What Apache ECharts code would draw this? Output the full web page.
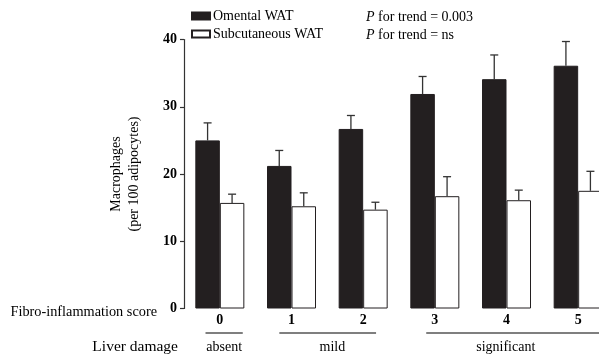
<!DOCTYPE html>
<html>
<head>
<meta charset="utf-8">
<script src="https://cdn.jsdelivr.net/npm/echarts@6/dist/echarts.min.js"></script>
<style>
  html, body { margin: 0; padding: 0; background: #fff; }
  #chart { width: 599px; height: 356px; }
</style>
</head>
<body>
<div id="chart"></div>
<script>
// fibro-inflammation score categories
var categories = ['0', '1', '2', '3', '4', '5'];
// macrophages per 100 adipocytes (mean and SE)
var omental = [25.0, 21.2, 26.7, 31.9, 34.1, 36.1];
var omentalErr = [2.6, 2.3, 2.0, 2.6, 3.6, 3.6];
var subcut = [15.7, 15.2, 14.7, 16.7, 16.1, 17.5];
var subcutErr = [1.3, 2.0, 1.1, 2.9, 1.5, 2.9];
var yTicks = [0, 10, 20, 30, 40];
// liver damage groups, spans in category units
var damageLabels = ['absent', 'mild', 'significant'];
var damageSpans = [[-0.2, 0.32], [0.83, 2.18], [2.88, 5.4]];
var damageCenters = [0.06, 1.57, 3.99];

var ink = '#231f20';
var serif = '"Liberation Serif", "DejaVu Serif", serif';
var barW = 24.5;

var chart = echarts.init(document.getElementById('chart'));

function errSeries(name, vals, errs, dx) {
    return {
        name: name + ' err',
        type: 'custom',
        z: 1,
        silent: true,
        data: vals.map(function (v, i) { return [i, v, v + errs[i]]; }),
        renderItem: function (params, api) {
            var lo = api.coord([api.value(0), api.value(1)]);
            var hi = api.coord([api.value(0), api.value(2)]);
            var x = lo[0] + dx;
            var st = { stroke: '#333', lineWidth: 1.3 };
            return {
                type: 'group',
                children: [
                    { type: 'line', shape: { x1: x, y1: lo[1], x2: x, y2: hi[1] }, style: st },
                    { type: 'line', shape: { x1: x - 4, y1: hi[1], x2: x + 4, y2: hi[1] }, style: st }
                ]
            };
        }
    };
}

var option = {
    animation: false,
    textStyle: { fontFamily: serif, color: '#000' },
    grid: { left: 184, top: 39.5, height: 269, width: 430, outerBoundsMode: 'none' },
    legend: {
        orient: 'vertical',
        left: 191,
        top: 9,
        padding: 0,
        itemWidth: 18,
        itemHeight: 7,
        itemGap: 4,
        icon: 'rect',
        textStyle: { fontFamily: serif, fontSize: 14, color: '#000', padding: [0, 0, 0, -2] },
        data: ['Omental WAT', 'Subcutaneous WAT']
    },
    xAxis: {
        type: 'category',
        data: categories,
        axisLine: { show: false },
        axisTick: { show: false },
        axisLabel: { fontFamily: serif, fontSize: 14, fontWeight: 'bold', color: '#000', margin: 5 }
    },
    yAxis: {
        type: 'value',
        min: yTicks[0],
        max: yTicks[yTicks.length - 1],
        interval: 10,
        splitLine: { show: false },
        axisLine: { show: true, lineStyle: { color: '#333', width: 1.2 } },
        axisTick: { show: true, length: 4, lineStyle: { color: '#333', width: 1.2 } },
        axisLabel: { fontFamily: serif, fontSize: 14, fontWeight: 'bold', color: '#000', margin: 7 },
        name: 'Macrophages\n(per 100 adipocytes)',
        nameLocation: 'middle',
        nameGap: 41,
        nameTextStyle: { fontFamily: serif, fontSize: 14, color: '#000', lineHeight: 18 }
    },
    series: [
        {
            name: 'Omental WAT',
            type: 'bar',
            barWidth: barW,
            barGap: '0%',
            data: omental,
            itemStyle: { color: ink, borderColor: ink, borderWidth: 1 }
        },
        {
            name: 'Subcutaneous WAT',
            type: 'bar',
            barWidth: barW,
            barGap: '0%',
            data: subcut,
            itemStyle: { color: '#fff', borderColor: ink, borderWidth: 1 }
        },
        errSeries('Omental WAT', omental, omentalErr, -barW / 2),
        errSeries('Subcutaneous WAT', subcut, subcutErr, barW / 2)
    ]
};
chart.setOption(option);

// category axis rounds fractional indices, so interpolate between two category centres
var p0 = chart.convertToPixel({ gridIndex: 0 }, [0, 0])[0];
var p1 = chart.convertToPixel({ gridIndex: 0 }, [1, 0])[0];
function catX(v) { return p0 + (p1 - p0) * v; }

// annotations: p values, row titles and liver damage groups
var graphics = [
    {
        type: 'text', left: 366, top: 10,
        style: {
            text: '{i|P} for trend = 0.003',
            font: '14px ' + serif, fill: '#000',
            rich: { i: { fontStyle: 'italic', fontFamily: serif, fontSize: 14 } }
        }
    },
    {
        type: 'text', left: 366, top: 28,
        style: {
            text: '{i|P} for trend = ns',
            font: '14px ' + serif, fill: '#000',
            rich: { i: { fontStyle: 'italic', fontFamily: serif, fontSize: 14 } }
        }
    },
    {
        type: 'text', x: 157, y: 312,
        style: { text: 'Fibro-inflammation score', font: '14.3px ' + serif, fill: '#000', align: 'right', verticalAlign: 'middle' }
    },
    {
        type: 'text', x: 178, y: 347,
        style: { text: 'Liver damage', font: '15.5px ' + serif, fill: '#000', align: 'right', verticalAlign: 'middle' }
    }
];
var yPix = 333;
damageLabels.forEach(function (lab, k) {
    graphics.push({
        type: 'line',
        shape: { x1: catX(damageSpans[k][0]), y1: yPix, x2: catX(damageSpans[k][1]), y2: yPix },
        style: { stroke: '#000', lineWidth: 1.2 }
    });
    graphics.push({
        type: 'text', x: catX(damageCenters[k]), y: 347,
        style: { text: lab, font: '14px ' + serif, fill: '#000', align: 'center', verticalAlign: 'middle' }
    });
});
chart.setOption({ graphic: graphics });
</script>
</body>
</html>
